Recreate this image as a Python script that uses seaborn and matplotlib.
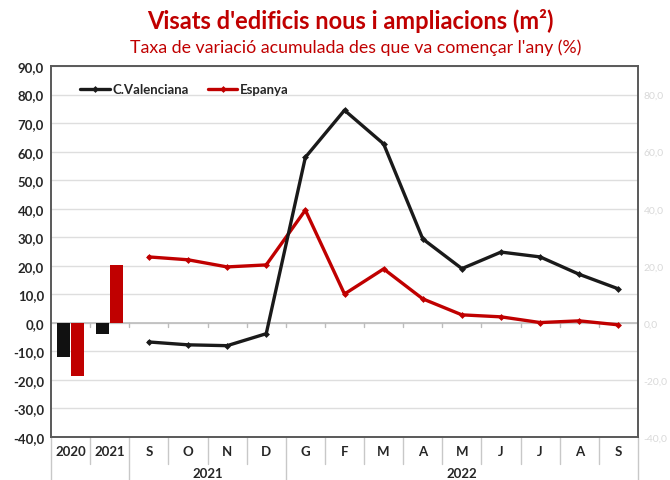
import pandas as pd
import seaborn as sns
from matplotlib import pyplot as plt
import numpy as np

# Data
bar_years = ['2020', '2021']
bar_cv = [-11.9, -3.8]
bar_esp = [-18.5, 20.3]

months = ['S', 'O', 'N', 'D', 'G', 'F', 'M', 'A', 'M', 'J', 'J', 'A', 'S']
month_year = ['2021'] * 4 + ['2022'] * 9
line_cv = [-6.7, -7.7, -8.0, -3.8, 58.0, 74.5, 62.7, 29.4, 19.0, 24.8, 23.1, 17.0, 11.9]
line_esp = [23.1, 22.1, 19.6, 20.3, 39.5, 10.1, 18.9, 8.4, 2.8, 2.1, 0.1, 0.7, -0.7]

labels_row1 = bar_years + months

red = '#C00000'
black = '#111111'

sns.set_theme(style='white')
plt.rcParams['font.family'] = ['Lato', 'DejaVu Sans']

fig = plt.figure(figsize=(6.7, 4.81), dpi=100)
ax = fig.add_axes([51 / 670, 43 / 481, 587 / 670, 371 / 481])

# gridlines
for v in range(-40, 91, 10):
    ax.axhline(v, color='#dedede', lw=1, zorder=0)
ax.axhline(0, color='#bdbdbd', lw=1.2, zorder=1)

# bars (2020, 2021)
bars = pd.DataFrame({
    'any': bar_years * 2,
    'valor': bar_cv + bar_esp,
    'serie': ['C.Valenciana'] * 2 + ['Espanya'] * 2,
})
sns.barplot(data=bars, x='any', y='valor', hue='serie', palette=[black, red],
            width=0.74, gap=0.1, legend=False, ax=ax, zorder=2,
            edgecolor='none', saturation=1)

# lines (S 2021 .. S 2022)
pos = np.arange(2, 2 + len(months))
lines = pd.DataFrame({'pos': pos, 'cv': line_cv, 'esp': line_esp})
sns.lineplot(data=lines, x='pos', y='cv', color='#1a1a1a', lw=2.4, marker='D',
             markersize=3.5, markeredgewidth=0, label='C.Valenciana', ax=ax, zorder=4)
sns.lineplot(data=lines, x='pos', y='esp', color=red, lw=2.4, marker='D',
             markersize=3.5, markeredgewidth=0, label='Espanya', ax=ax, zorder=3)

ax.set_xlim(-0.5, 14.5)
ax.set_ylim(-40, 90)
ax.set_yticks(range(-40, 91, 10))
ax.set_yticklabels([f'{v:.1f}'.replace('.', ',') for v in range(-40, 91, 10)],
                   fontsize=9.5, fontweight='bold', color='#262626')
ax.tick_params(axis='y', length=0, pad=5)
ax.set_xticks([])
ax.set_xlabel('')
ax.set_ylabel('')
for s in ax.spines.values():
    s.set_color('#595959')
    s.set_linewidth(1.4)

# small ticks on the zero axis
for b in np.arange(0.5, 14.5, 1):
    ax.plot([b, b], [0, -1.3], color='#bdbdbd', lw=1, zorder=1)

# right axis in light grey
ax2 = ax.twinx()
ax2.set_ylim(-40, 90)
ax2.set_yticks(range(-40, 81, 20))
ax2.set_yticklabels([f'{v:.1f}'.replace('.', ',') for v in range(-40, 81, 20)],
                    fontsize=7.5, color='#d9d9d9')
ax2.tick_params(axis='y', length=0, pad=4)
for s in ax2.spines.values():
    s.set_visible(False)

# category axis (two levels)
tr = ax.get_xaxis_transform()
for i, lab in enumerate(labels_row1):
    ax.text(i, -0.038, lab, transform=tr, ha='center', va='center',
            fontsize=9.5, fontweight='bold', color='#262626')
long_sep = [-0.5, 1.5, 5.5, 14.5]
for b in np.arange(-0.5, 14.6, 1):
    y2 = -0.118 if b in long_sep else -0.073
    ax.plot([b, b], [0, y2], transform=tr, color='#c8c8c8', lw=1, clip_on=False)
ax.text(3.5, -0.097, '2021', transform=tr, ha='center', va='center',
        fontsize=9.5, fontweight='bold', color='#262626')
ax.text(10, -0.097, '2022', transform=tr, ha='center', va='center',
        fontsize=9.5, fontweight='bold', color='#262626')

leg = ax.legend(loc='upper left', bbox_to_anchor=(0.03, 0.985), ncol=2, frameon=False,
                handlelength=2.2, columnspacing=1.5, handletextpad=0.2,
                prop={'weight': 'bold', 'size': 9.5})

fig.text(0.523, 0.957, "Visats d'edificis nous i ampliacions (m²)", ha='center', va='center',
         fontsize=17, fontweight='bold', color=red)
fig.text(0.531, 0.9, "Taxa de variació acumulada des que va començar l'any (%)", ha='center',
         va='center', fontsize=12.8, color=red)

fig.savefig('out.png', dpi=100)
